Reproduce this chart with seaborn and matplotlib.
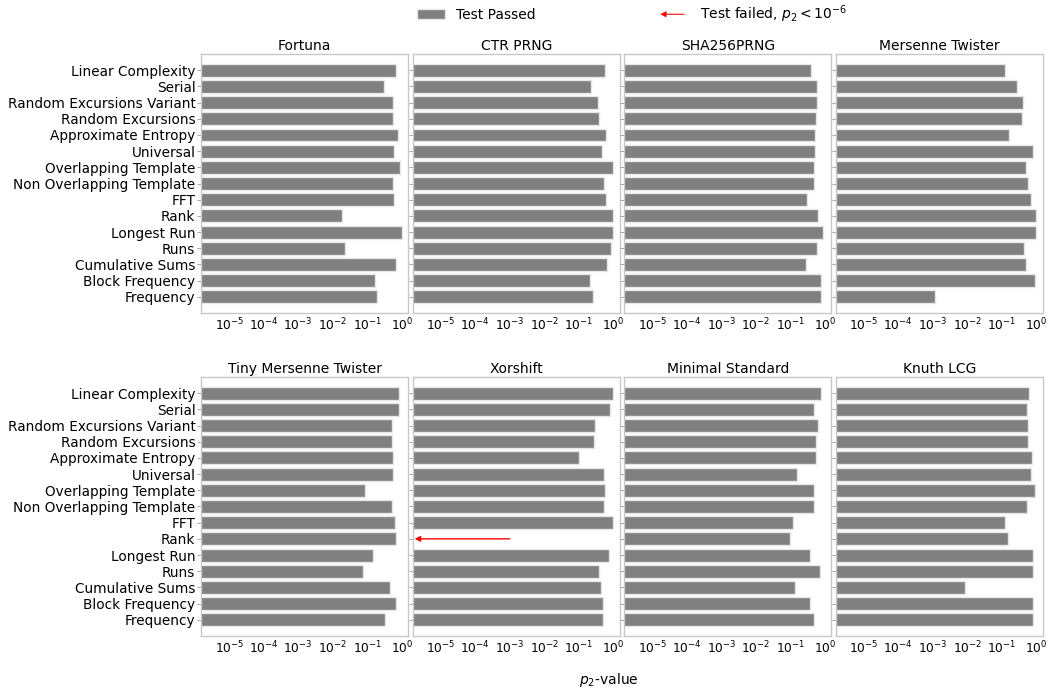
import numpy as np
import pandas as pd
import matplotlib
matplotlib.use("Agg")
import matplotlib.pyplot as plt
import matplotlib.patches as mpatches
from matplotlib.legend_handler import HandlerPatch
import seaborn as sns

# NIST SP 800-22 tests, listed top to bottom
tests = [
    "Linear Complexity", "Serial", "Random Excursions Variant",
    "Random Excursions", "Approximate Entropy", "Universal",
    "Overlapping Template", "Non Overlapping Template", "FFT", "Rank",
    "Longest Run", "Runs", "Cumulative Sums", "Block Frequency", "Frequency",
]

generators = [
    "Fortuna", "CTR PRNG", "SHA256PRNG", "Mersenne Twister",
    "Tiny Mersenne Twister", "Xorshift", "Minimal Standard", "Knuth LCG",
]

# second-level p-values per generator (NaN = test failed, p2 < 1e-6)
fortuna = [0.70, 0.295, 0.54, 0.54, 0.77, 0.59, 0.875, 0.54, 0.59, 0.0185, 0.99, 0.0225, 0.67, 0.166, 0.19]
ctr_prng = [0.59, 0.23, 0.35, 0.385, 0.60, 0.46, 0.98, 0.525, 0.61, 0.99, 1.0, 0.875, 0.64, 0.207, 0.25]
sha256prng = [0.385, 0.61, 0.60, 0.57, 0.53, 0.53, 0.47, 0.50, 0.31, 0.63, 0.91, 0.61, 0.28, 0.78, 0.75]
mersenne = [0.124, 0.28, 0.41, 0.39, 0.162, 0.78, 0.50, 0.56, 0.70, 0.98, 1.0, 0.43, 0.50, 0.93, 0.00118]
tiny_mt = [0.81, 0.85, 0.53, 0.51, 0.57, 0.57, 0.083, 0.51, 0.65, 0.66, 0.15, 0.074, 0.44, 0.66, 0.325]
xorshift = [1.0, 0.79, 0.29, 0.27, 0.10, 0.52, 0.555, 0.54, 0.97, np.nan, 0.76, 0.38, 0.435, 0.50, 0.50]
minimal_std = [0.78, 0.47, 0.63, 0.57, 0.54, 0.159, 0.47, 0.48, 0.116, 0.097, 0.36, 0.73, 0.133, 0.36, 0.49]
knuth_lcg = [0.60, 0.55, 0.56, 0.56, 0.73, 0.69, 0.915, 0.53, 0.12, 0.155, 0.80, 0.82, 0.0083, 0.78, 0.78]

series = [fortuna, ctr_prng, sha256prng, mersenne, tiny_mt, xorshift, minimal_std, knuth_lcg]

df = pd.DataFrame({
    "generator": np.repeat(generators, len(tests)),
    "test": tests * len(generators),
    "p2": np.concatenate(series),
})

sns.set_theme(style="white")
plt.rcParams["font.family"] = ["DejaVu Sans"]
plt.rcParams["text.color"] = "black"

BAR = "#808080"
SPINE = "#c8c8c8"

fig, axes = plt.subplots(2, 4, figsize=(10.55, 6.93), dpi=100, sharey=True)
fig.subplots_adjust(left=0.1905, right=0.9886, top=0.922, bottom=0.0823,
                    wspace=0.02, hspace=0.247)

xmin, xmax = 10 ** -5.82, 10 ** 0.19

for ax, gen in zip(axes.flat, generators):
    sub = df[df["generator"] == gen]
    sns.barplot(data=sub, x="p2", y="test", order=tests, orient="h", ax=ax,
                color=BAR, saturation=1, edgecolor="#e6e6e6", linewidth=1,
                errorbar=None)
    ax.set_xscale("log")
    ax.set_xlim(xmin, xmax)
    ax.set_ylim(len(tests), -1)
    ax.set_title(gen, fontsize=10, pad=3, color="black")
    ax.set_xlabel("")
    ax.set_ylabel("")
    ax.set_xticks([1e-5, 1e-4, 1e-3, 1e-2, 1e-1, 1e0])
    ax.tick_params(axis="x", labelsize=8.8, length=0, pad=3, labelcolor="black")
    ax.tick_params(axis="x", which="minor", bottom=True, length=1.5,
                   width=0.5, color="#bbbbbb")
    ax.tick_params(axis="y", labelsize=9.8, left=True, length=3, width=0.6,
                   color="#999999", pad=1, labelcolor="black")
    for s in ax.spines.values():
        s.set_color(SPINE)
        s.set_linewidth(1)
    # failed tests: arrow pointing off the left of the scale
    vals = np.asarray(sub["p2"])
    for i, v in enumerate(vals):
        if np.isnan(v):
            ax.annotate("", xy=(xmin * 1.15, i), xytext=(1e-3, i),
                        arrowprops=dict(arrowstyle="-|>", color="red", lw=1,
                                        mutation_scale=8,
                                        shrinkA=0, shrinkB=0))


class HandlerArrow(HandlerPatch):
    def create_artists(self, legend, orig_handle, xdescent, ydescent,
                       width, height, fontsize, trans):
        length = 0.85 * width
        arrow = mpatches.FancyArrow(length - xdescent, 0.5 * height - ydescent,
                                    -length, 0, length_includes_head=True,
                                    width=0.4, head_width=4, head_length=4)
        self.update_prop(arrow, orig_handle, legend)
        arrow.set_transform(trans)
        return [arrow]


passed = mpatches.Patch(facecolor=BAR, edgecolor="#e6e6e6", label="Test Passed")
failed = mpatches.FancyArrow(0, 0, 1, 0, color="red", linewidth=0.3,
                             label=r"Test failed, $p_2 < 10^{-6}$")
fig.legend(handles=[passed, failed], loc="upper center",
           bbox_to_anchor=(0.599, 1.013), ncol=2, frameon=False, fontsize=10,
           columnspacing=9, handlelength=2.0,
           handler_map={mpatches.FancyArrow: HandlerArrow()})

fig.text(0.577, 1 - 680 / 693, r"$p_2$-value", ha="center", va="center",
         fontsize=10)

fig.savefig("out.png", dpi=100)
